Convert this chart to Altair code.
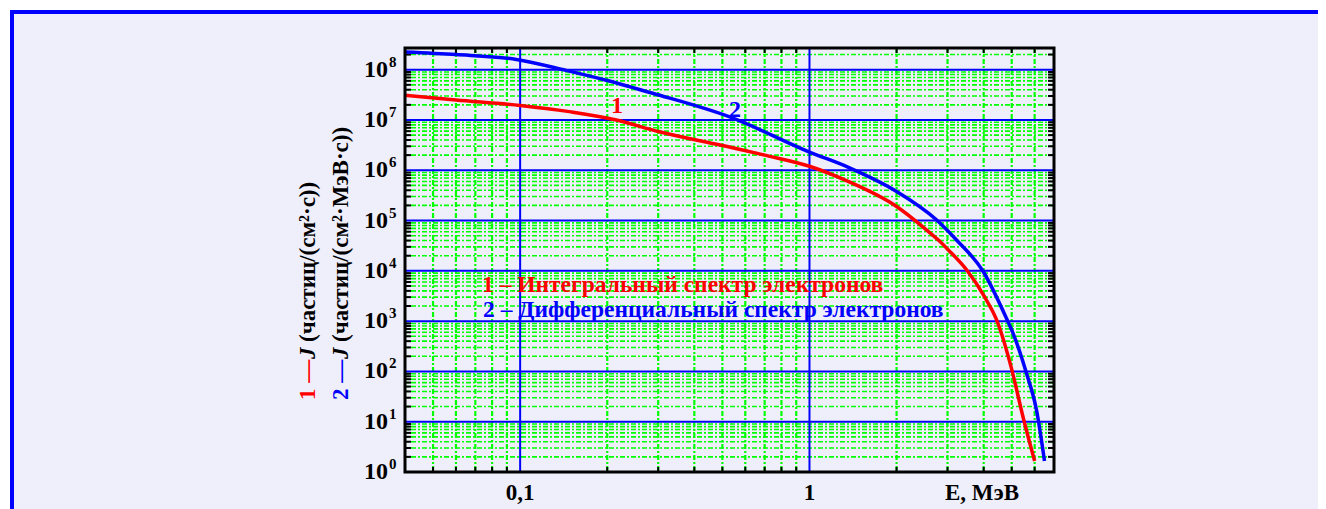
import altair as alt
import pandas as pd

# ---- data ----
E_int = [0.04, 0.06, 0.1, 0.15, 0.215, 0.3, 0.5, 0.7, 1.0, 1.36, 2.0, 2.53, 2.8, 3.02, 3.49, 4.02, 4.43, 5.0, 5.46, 6.0]
J_int = [3.1e7, 2.5e7, 1.95e7, 1.45e7, 1.0e7, 5.9e6, 3.1e6, 2.0e6, 1.2e6, 6.0e5, 1.9e5, 6.6e4, 4.0e4, 2.6e4, 1.05e4, 3.1e3, 1.07e3, 110, 13, 1.66]

E_diff = [0.04, 0.06, 0.097, 0.144, 0.2, 0.287, 0.53, 1.0, 1.375, 2.0, 2.74, 3.21, 3.98, 4.79, 5.05, 5.62, 6.09, 6.49]
J_diff = [2.25e8, 2.0e8, 1.6e8, 9.7e7, 6.1e7, 3.4e7, 1.15e7, 2.3e6, 1.12e6, 3.8e5, 1.05e5, 4.2e4, 9.8e3, 1.15e3, 5.8e2, 93, 17, 1.66]

x_major = [0.1, 1]
x_minor = [0.05, 0.06, 0.07, 0.08, 0.09, 0.2, 0.3, 0.4, 0.5, 0.6, 0.7, 0.8, 0.9, 2, 3, 4, 5, 6]
y_major = [1e1, 1e2, 1e3, 1e4, 1e5, 1e6, 1e7, 1e8]
y_minor = [m * d for d in [1, 10, 100, 1e3, 1e4, 1e5, 1e6, 1e7] for m in [2, 3, 4, 5, 6, 7, 8, 9]] + [2e8]
y_label_vals = [1, 1e1, 1e2, 1e3, 1e4, 1e5, 1e6, 1e7, 1e8]
y_label_exp = ["0", "1", "2", "3", "4", "5", "6", "7", "8"]
x_label_vals = [0.1, 1]
x_label_text = ["0,1", "1"]

W, H = 649, 424
FONT = "Liberation Serif"

xs = alt.Scale(type="log", domain=[0.04, 7], nice=False)
ys = alt.Scale(type="log", domain=[1, 2.7e8], nice=False)

df_int = pd.DataFrame({"E": E_int, "J": J_int})
df_diff = pd.DataFrame({"E": E_diff, "J": J_diff})
df_xmaj = pd.DataFrame({"v": x_major})
df_xmin = pd.DataFrame({"v": x_minor})
df_ymaj = pd.DataFrame({"v": y_major})
df_ymin = pd.DataFrame({"v": y_minor})
df_ylab = pd.DataFrame({"v": y_label_vals, "t": ["10"] * len(y_label_vals), "e": y_label_exp})
df_xlab = pd.DataFrame({"v": x_label_vals, "t": x_label_text})
one = pd.DataFrame({"a": [0]})

X = lambda f: alt.X(f, scale=xs, axis=None)
Y = lambda f: alt.Y(f, scale=ys, axis=None)

layers = []

# page frame (decoration)
layers.append(alt.Chart(one).mark_rule(color="#FFFFFF", strokeWidth=2).encode(
    x=alt.value(-397), x2=alt.value(913), y=alt.value(-39)))
layers.append(alt.Chart(one).mark_rule(color="#FFFFFF", strokeWidth=2).encode(
    x=alt.value(-396), y=alt.value(-40), y2=alt.value(H + 40)))
layers.append(alt.Chart(one).mark_rule(color="#0000FF", strokeWidth=4).encode(
    x=alt.value(-395), x2=alt.value(913), y=alt.value(-36)))
layers.append(alt.Chart(one).mark_rule(color="#0000FF", strokeWidth=4).encode(
    x=alt.value(-393), y=alt.value(-38), y2=alt.value(H + 40)))

# grid
layers.append(alt.Chart(df_ymin).mark_rule(color="#00FF00", strokeWidth=1.6, strokeDash=[5, 2, 2, 2]).encode(y=Y("v:Q")))
layers.append(alt.Chart(df_xmin).mark_rule(color="#00FF00", strokeWidth=2.2, strokeDash=[5, 2, 2, 2]).encode(x=X("v:Q")))
layers.append(alt.Chart(df_ymaj).mark_rule(color="#0000FF", strokeWidth=2).encode(y=Y("v:Q")))
layers.append(alt.Chart(df_xmaj).mark_rule(color="#0000FF", strokeWidth=2).encode(x=X("v:Q")))

# inward ticks
for y0, y1 in [(0, 5), (H - 5, H)]:
    layers.append(alt.Chart(df_xmin).mark_rule(color="black", strokeWidth=2).encode(
        x=X("v:Q"), y=alt.value(y0), y2=alt.value(y1)))
for x0, x1 in [(0, 6), (W - 6, W)]:
    layers.append(alt.Chart(df_ymin).mark_rule(color="black", strokeWidth=2).encode(
        y=Y("v:Q"), x=alt.value(x0), x2=alt.value(x1)))

# legend text inside plot
layers.append(alt.Chart(one).mark_text(align="left", baseline="middle", font=FONT, fontWeight="bold",
                                       fontSize=23.5, color="#FF0000").encode(
    x=alt.value(77), y=alt.value(237), text=alt.value("1 – Интегральный спектр электронов")))
layers.append(alt.Chart(one).mark_text(align="left", baseline="middle", font=FONT, fontWeight="bold",
                                       fontSize=23.5, color="#0000FF").encode(
    x=alt.value(78), y=alt.value(262), text=alt.value("2 – Дифференциальный спектр электронов")))

# curves
layers.append(alt.Chart(df_int).mark_line(color="#FF0000", strokeWidth=3.5, interpolate="monotone").encode(
    x=X("E:Q"), y=Y("J:Q")))
layers.append(alt.Chart(df_diff).mark_line(color="#0000FF", strokeWidth=3.5, interpolate="monotone").encode(
    x=X("E:Q"), y=Y("J:Q")))

# curve labels
layers.append(alt.Chart(one).mark_text(font=FONT, fontWeight="bold", fontSize=24, color="#FF0000").encode(
    x=alt.value(212), y=alt.value(58), text=alt.value("1")))
layers.append(alt.Chart(one).mark_text(font=FONT, fontWeight="bold", fontSize=24, color="#0000FF").encode(
    x=alt.value(330), y=alt.value(62), text=alt.value("2")))

# plot frame
layers.append(alt.Chart(one).mark_rect(filled=False, stroke="black", strokeWidth=3).encode(
    x=alt.value(0), x2=alt.value(W), y=alt.value(0), y2=alt.value(H)))

# y tick labels
layers.append(alt.Chart(df_ylab).mark_text(align="right", baseline="middle", font=FONT, fontWeight="bold",
                                           fontSize=24, color="black").encode(
    y=Y("v:Q"), x=alt.value(-17), text="t:N"))
layers.append(alt.Chart(df_ylab).mark_text(align="left", baseline="middle", font=FONT, fontWeight="bold",
                                           fontSize=15, color="black", dy=-8).encode(
    y=Y("v:Q"), x=alt.value(-16), text="e:N"))

# x tick labels
layers.append(alt.Chart(df_xlab).mark_text(align="center", baseline="middle", font=FONT, fontWeight="bold",
                                           fontSize=23, color="black").encode(
    x=X("v:Q"), y=alt.value(H + 21), text="t:N"))
layers.append(alt.Chart(one).mark_text(align="center", baseline="middle", font=FONT, fontWeight="bold",
                                       fontSize=23, color="black").encode(
    x=alt.value(577), y=alt.value(H + 21), text=alt.value("E, МэВ")))

# rotated y title (two lines)
for xv, num, col, rest in [(-97, "1 —", "#FF0000", "(частиц/(см²·с))"),
                           (-64, "2 —", "#0000FF", "(частиц/(см²·МэВ·с))")]:
    layers.append(alt.Chart(one).mark_text(angle=270, align="left", baseline="middle", font=FONT,
                                           fontWeight="bold", fontSize=23, color=col).encode(
        x=alt.value(xv), y=alt.value(352), text=alt.value(num)))
    layers.append(alt.Chart(one).mark_text(angle=270, align="left", baseline="middle", font=FONT,
                                           fontWeight="bold", fontStyle="italic", fontSize=23, color="black").encode(
        x=alt.value(xv), y=alt.value(311), text=alt.value("J")))
    layers.append(alt.Chart(one).mark_text(angle=270, align="left", baseline="middle", font=FONT,
                                           fontWeight="bold", fontSize=23, color="black").encode(
        x=alt.value(xv), y=alt.value(294), text=alt.value(rest)))

chart = alt.layer(*layers).properties(
    width=W, height=H,
    autosize="none",
    padding={"left": 397, "top": 40, "right": 264, "bottom": 38},
    background="#EFEFFB",
).configure_view(strokeWidth=0)

chart.save("out.html", embed_options={"renderer": "svg", "actions": False})
